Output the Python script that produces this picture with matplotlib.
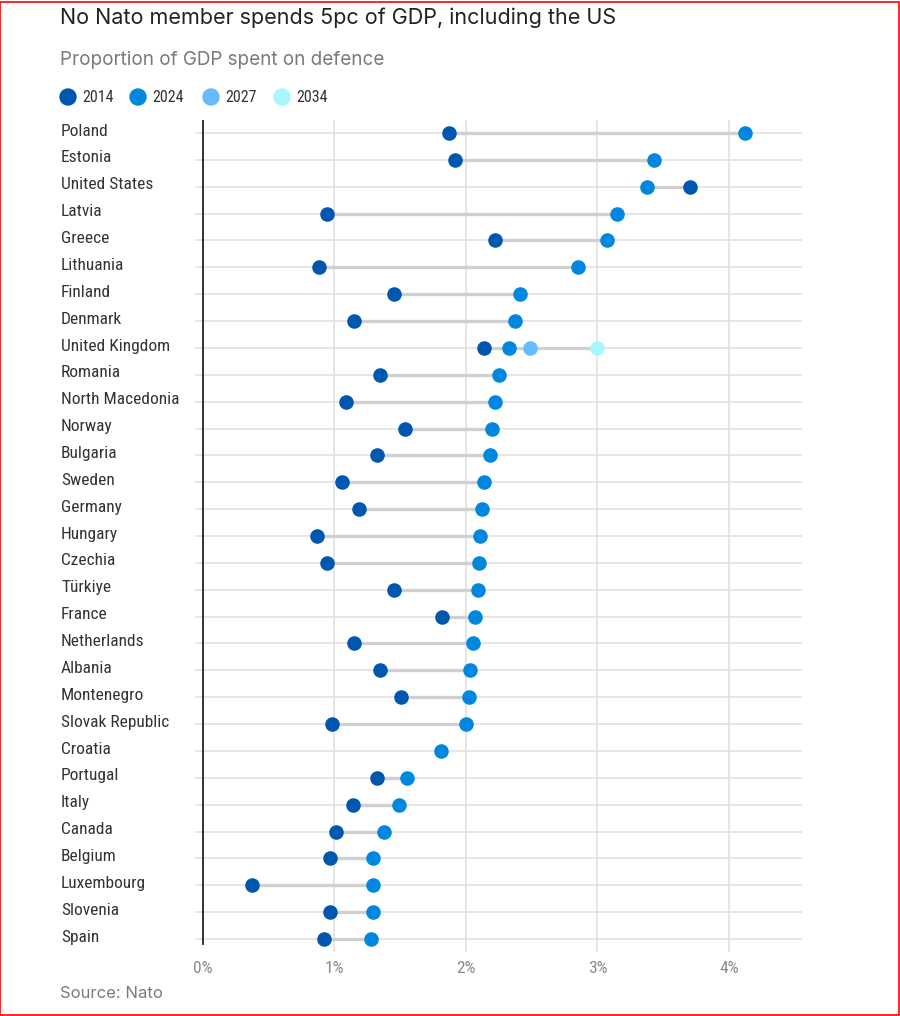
import matplotlib
matplotlib.use('Agg')
import matplotlib.pyplot as plt
from matplotlib import font_manager
from matplotlib.patches import Rectangle, Ellipse
from matplotlib.transforms import blended_transform_factory

countries = ["Poland", "Estonia", "United States", "Latvia", "Greece", "Lithuania",
             "Finland", "Denmark", "United Kingdom", "Romania", "North Macedonia",
             "Norway", "Bulgaria", "Sweden", "Germany", "Hungary", "Czechia",
             "Türkiye", "France", "Netherlands", "Albania", "Montenegro",
             "Slovak Republic", "Croatia", "Portugal", "Italy", "Canada",
             "Belgium", "Luxembourg", "Slovenia", "Spain"]
spend_2014 = [1.87, 1.92, 3.70, 0.94, 2.22, 0.88, 1.45, 1.15, 2.14, 1.35, 1.09,
              1.54, 1.32, 1.06, 1.19, 0.87, 0.94, 1.45, 1.82, 1.15, 1.35, 1.51,
              0.98, None, 1.32, 1.14, 1.01, 0.97, 0.37, 0.97, 0.92]
spend_2024 = [4.12, 3.43, 3.38, 3.15, 3.07, 2.85, 2.41, 2.37, 2.33, 2.25, 2.22,
              2.20, 2.18, 2.14, 2.12, 2.11, 2.10, 2.09, 2.07, 2.05, 2.03, 2.02,
              2.00, 1.81, 1.55, 1.49, 1.38, 1.29, 1.29, 1.29, 1.28]
uk_2027 = 2.49
uk_2034 = 3.0
years = ["2014", "2024", "2027", "2034"]
colors = ["#0057b0", "#0088e0", "#66bbff", "#aaf6ff"]
xticks = [0, 1, 2, 3, 4]


def pick(names):
    avail = {f.name for f in font_manager.fontManager.ttflist}
    for n in names:
        if n in avail:
            return n
    return "DejaVu Sans"


narrow = pick(["Roboto Condensed", "Liberation Sans Narrow", "DejaVu Sans Condensed", "Roboto"])
main = pick(["Inter", "Lato", "Noto Sans"])

n = len(countries)
step = (939 - 133) / (n - 1)
top = 133 - step / 2
bottom = 939 + step / 2

fig = plt.figure(figsize=(9, 10.16), dpi=100)
ax = fig.add_axes([195 / 900, 1 - bottom / 1016, (802 - 195) / 900, (bottom - top) / 1016])

ax.set_xlim(-0.06, 4.555)
ax.set_ylim(n - 0.5, -0.5)

for i in range(n):
    ax.axhline(i, color="#e2e2e2", lw=1.2, zorder=0)
for x in xticks[1:]:
    ax.axvline(x, color="#e2e2e2", lw=1.2, zorder=0)
ax.plot([0, 0], [-0.5, n - 0.8], color="#222222", lw=1.3, zorder=1)

for i, c in enumerate(countries):
    vals = [v for v in (spend_2014[i], spend_2024[i]) if v is not None]
    if c == "United Kingdom":
        vals += [uk_2027, uk_2034]
    if len(vals) > 1:
        ax.plot([min(vals), max(vals)], [i, i], color="#d0d0d0", lw=2.4, zorder=2,
                solid_capstyle="butt")

ys = list(range(n))
x14 = [v for v in spend_2014 if v is not None]
y14 = [i for i, v in enumerate(spend_2014) if v is not None]
ax.scatter(x14, y14, s=110, color=colors[0], zorder=3, linewidths=0)
ax.scatter(spend_2024, ys, s=110, color=colors[1], zorder=3, linewidths=0)
uk = countries.index("United Kingdom")
ax.scatter([uk_2027], [uk], s=110, color=colors[2], zorder=3, linewidths=0)
ax.scatter([uk_2034], [uk], s=110, color=colors[3], zorder=3, linewidths=0)

for s in ax.spines.values():
    s.set_visible(False)
ax.set_yticks([])
ax.set_xticks(xticks)
ax.set_xticklabels([f"{x}%" for x in xticks], fontfamily=narrow, fontsize=12.5, color="#8a8a8a")
ax.tick_params(axis="x", length=0, pad=6)

lab_tr = blended_transform_factory(fig.transFigure, ax.transData)
for i, c in enumerate(countries):
    ax.text(61 / 900, i - 0.07, c, transform=lab_tr, fontfamily=narrow, fontsize=12.5,
            color="#333333", va="center", ha="left")

fig.text(60 / 900, 1 - 18 / 1016, "No Nato member spends 5pc of GDP, including the US",
         fontfamily=main, fontsize=15.5, color="#222222", va="center")
fig.text(60 / 900, 1 - 60 / 1016, "Proportion of GDP spent on defence",
         fontfamily=main, fontsize=13.6, color="#7a7a7a", va="center")

leg_x = [68, 138, 211, 282]
for lx, yr, col in zip(leg_x, years, colors):
    fig.patches.append(Ellipse((lx / 900, 1 - 97 / 1016), 16 / 900, 16 / 1016,
                               transform=fig.transFigure, color=col))
    fig.text((lx + 14) / 900, 1 - 97 / 1016, yr, fontfamily=narrow, fontsize=11.5,
             color="#333333", va="center")

fig.text(60 / 900, 1 - 993 / 1016, "Source: Nato", fontfamily=main, fontsize=12,
         color="#7a7a7a", va="center")

fig.patches.append(Rectangle((0.0005, 0.0005), 0.998, 0.998, transform=fig.transFigure,
                             fill=False, edgecolor="red", lw=1.2))

fig.savefig("out.png", dpi=100, facecolor="white")
